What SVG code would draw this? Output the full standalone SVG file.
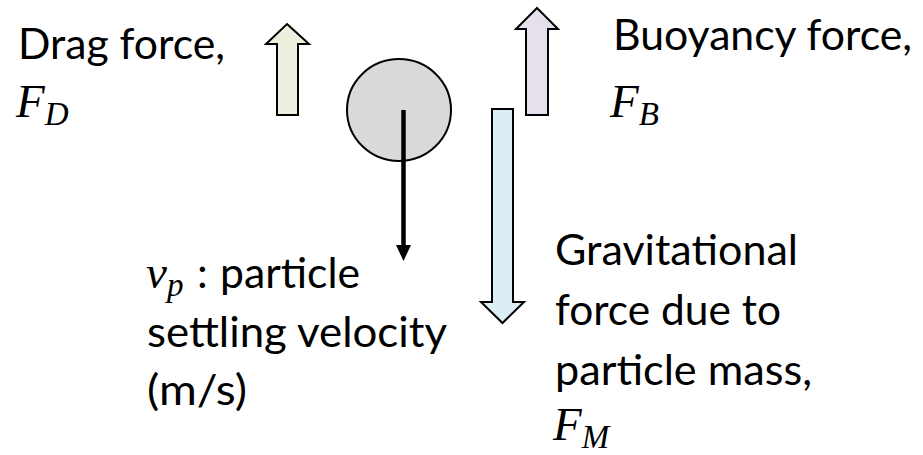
<svg xmlns="http://www.w3.org/2000/svg" width="923" height="455" viewBox="0 0 923 455">
<style>
.t{font-family:Lato,"Liberation Sans",sans-serif;font-size:43px;fill:#000}
.m{font-family:"Liberation Serif","DejaVu Serif",serif;font-style:italic;font-size:47px;fill:#000}
.s{font-size:33px}
.blk{stroke:#000;stroke-width:2;stroke-linejoin:miter}
</style>
<rect width="923" height="455" fill="#fff"/>
<g id="particle">
<ellipse cx="399" cy="110" rx="52" ry="51" fill="#D9D9D9" class="blk"/>
</g>
<g id="connectors">
<polygon id="drag-arrow" points="287,24 309,44 298,44 298,115 277,115 277,44 266,44" fill="#EBF1DE" class="blk"/>
<polygon id="buoyancy-arrow" points="537,8 558,29 548,29 548,115 526,115 526,29 516,29" fill="#E6E0EC" class="blk"/>
<polygon id="gravity-arrow" points="492,109 513,109 513,302 524,302 502.5,323 481,302 492,302" fill="#DBEEF4" class="blk"/>
<line x1="403.5" y1="110" x2="403.5" y2="247" stroke="#000" stroke-width="4.5"/>
<polygon points="396,245 411,245 403.5,261" fill="#000"/>
</g>
<g id="label-drag">
<text class="t" x="18" y="59" textLength="207" lengthAdjust="spacingAndGlyphs">Drag force,</text>
<text class="m" x="16" y="117">F<tspan class="s" dy="8">D</tspan></text>
</g>
<g id="label-buoyancy">
<text class="t" x="613" y="50" textLength="299" lengthAdjust="spacingAndGlyphs">Buoyancy force,</text>
<text class="m" x="610" y="117">F<tspan class="s" dy="8">B</tspan></text>
</g>
<g id="label-velocity">
<text x="146" y="288"><tspan class="m">v</tspan><tspan class="m s" dy="8">p</tspan></text>
<text class="t" x="197" y="288">:</text>
<text class="t" x="220" y="288" textLength="140" lengthAdjust="spacingAndGlyphs">particle</text>
<text class="t" x="147" y="347" textLength="300" lengthAdjust="spacingAndGlyphs">settling velocity</text>
<text class="t" x="147" y="405" textLength="100" lengthAdjust="spacingAndGlyphs">(m/s)</text>
</g>
<g id="label-gravity">
<text class="t" x="555" y="265" textLength="243" lengthAdjust="spacingAndGlyphs">Gravitational</text>
<text class="t" x="555" y="325" textLength="226" lengthAdjust="spacingAndGlyphs">force due to</text>
<text class="t" x="555" y="385" textLength="257" lengthAdjust="spacingAndGlyphs">particle mass,</text>
<text class="m" x="553" y="440">F<tspan class="s" dy="8">M</tspan></text>
</g>
</svg>
